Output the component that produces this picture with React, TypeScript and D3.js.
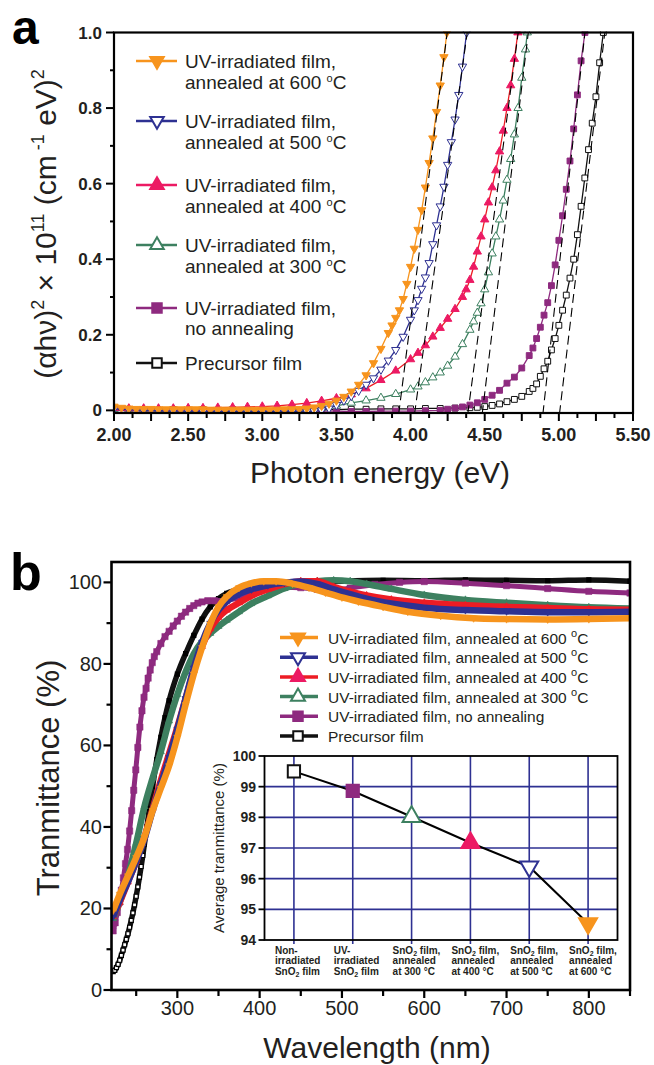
import React from "react";
import * as d3 from "d3";

const FONT = "Arial, 'Liberation Sans', Helvetica, sans-serif";

// ---------------- panel a : Tauc plot ----------------
const energyTicks = [2.0, 2.5, 3.0, 3.5, 4.0, 4.5, 5.0, 5.5];
const alphaTicks = [0, 0.2, 0.4, 0.6, 0.8, 1.0];

// [photon energy (eV), (ahv)^2 x 1e-11]
const tauc600: [number, number][] = [
  [2.0, 0.01], [2.05, 0.007], [2.1, 0.005], [2.15, 0.004], [2.2, 0.004], [2.25, 0.004], [2.3, 0.003],
  [2.35, 0.003], [2.4, 0.003], [2.45, 0.003], [2.5, 0.003], [2.55, 0.003], [2.6, 0.003], [2.65, 0.002],
  [2.7, 0.002], [2.75, 0.002], [2.8, 0.002], [2.85, 0.002], [2.9, 0.002], [2.95, 0.002], [3.0, 0.002],
  [3.05, 0.002], [3.1, 0.002], [3.15, 0.003], [3.2, 0.003], [3.25, 0.004], [3.3, 0.005], [3.35, 0.008],
  [3.4, 0.012], [3.45, 0.018], [3.5, 0.026], [3.55, 0.036], [3.6, 0.05], [3.65, 0.068], [3.7, 0.093],
  [3.75, 0.125], [3.8, 0.163], [3.85, 0.205], [3.875, 0.225], [3.9, 0.245], [3.925, 0.265], [3.95, 0.295],
  [3.975, 0.335], [4.0, 0.38], [4.025, 0.428], [4.05, 0.478], [4.075, 0.53], [4.1, 0.59], [4.125, 0.655],
  [4.15, 0.72], [4.175, 0.79], [4.2, 0.86], [4.225, 0.935], [4.245, 1.0],
];
const tauc500: [number, number][] = [
  [2.0, 0.004], [2.1, 0.002], [2.2, 0.0], [2.3, -0.001], [2.4, -0.002], [2.5, -0.002], [2.6, -0.003],
  [2.7, -0.003], [2.8, -0.003], [2.9, -0.003], [3.0, -0.003], [3.1, -0.003], [3.2, -0.003], [3.3, -0.003],
  [3.35, -0.002], [3.4, 0.0], [3.45, 0.005], [3.5, 0.014], [3.55, 0.026], [3.6, 0.038], [3.65, 0.052],
  [3.7, 0.068], [3.75, 0.085], [3.8, 0.108], [3.85, 0.132], [3.9, 0.16], [3.95, 0.195], [4.0, 0.24],
  [4.025, 0.265], [4.05, 0.292], [4.075, 0.322], [4.1, 0.352], [4.125, 0.39], [4.15, 0.44], [4.175, 0.49],
  [4.2, 0.54], [4.225, 0.592], [4.25, 0.65], [4.275, 0.71], [4.3, 0.77], [4.325, 0.835], [4.35, 0.91],
  [4.378, 1.0],
];
const tauc400: [number, number][] = [
  [2.0, 0.006], [2.1, 0.005], [2.2, 0.005], [2.3, 0.005], [2.4, 0.005], [2.5, 0.006], [2.6, 0.006],
  [2.7, 0.007], [2.8, 0.008], [2.9, 0.009], [3.0, 0.01], [3.1, 0.012], [3.2, 0.015], [3.3, 0.019],
  [3.4, 0.025], [3.5, 0.032], [3.6, 0.042], [3.7, 0.058], [3.8, 0.08], [3.9, 0.105], [4.0, 0.135],
  [4.05, 0.152], [4.1, 0.172], [4.15, 0.195], [4.2, 0.218], [4.25, 0.242], [4.3, 0.268], [4.35, 0.3],
  [4.375, 0.32], [4.4, 0.345], [4.425, 0.38], [4.45, 0.42], [4.475, 0.46], [4.5, 0.505], [4.525, 0.55],
  [4.55, 0.59], [4.575, 0.635], [4.6, 0.685], [4.625, 0.74], [4.65, 0.8], [4.675, 0.86], [4.7, 0.93],
  [4.724, 1.0],
];
const tauc300: [number, number][] = [
  [2.0, 0.003], [2.1, 0.003], [2.2, 0.003], [2.3, 0.003], [2.4, 0.003], [2.5, 0.003], [2.6, 0.003],
  [2.7, 0.003], [2.8, 0.003], [2.9, 0.003], [3.0, 0.003], [3.1, 0.003], [3.2, 0.004], [3.3, 0.005],
  [3.4, 0.006], [3.5, 0.012], [3.6, 0.02], [3.7, 0.026], [3.8, 0.033], [3.9, 0.043], [4.0, 0.055],
  [4.05, 0.063], [4.1, 0.074], [4.15, 0.087], [4.2, 0.1], [4.25, 0.118], [4.3, 0.142], [4.35, 0.175],
  [4.4, 0.213], [4.425, 0.235], [4.45, 0.258], [4.475, 0.283], [4.5, 0.32], [4.525, 0.365], [4.55, 0.415],
  [4.575, 0.46], [4.6, 0.505], [4.625, 0.555], [4.65, 0.61], [4.675, 0.665], [4.7, 0.73], [4.725, 0.8],
  [4.75, 0.88], [4.775, 0.955], [4.787, 1.0],
];
const taucNone: [number, number][] = [
  [2.0, 0.0], [2.1, -0.001], [2.2, -0.002], [2.3, -0.002], [2.4, -0.002], [2.5, -0.002], [2.6, -0.002],
  [2.7, -0.002], [2.8, -0.002], [2.9, -0.002], [3.0, -0.002], [3.1, -0.002], [3.2, -0.002], [3.3, -0.002],
  [3.4, -0.002], [3.5, -0.002], [3.6, -0.003], [3.7, -0.003], [3.8, -0.002], [3.9, -0.002], [4.0, -0.002],
  [4.1, -0.001], [4.2, 0.0], [4.25, 0.003], [4.3, 0.006], [4.35, 0.009], [4.4, 0.014], [4.45, 0.02],
  [4.5, 0.029], [4.55, 0.04], [4.6, 0.053], [4.65, 0.072], [4.7, 0.088], [4.75, 0.112], [4.8, 0.145],
  [4.825, 0.165], [4.85, 0.19], [4.875, 0.22], [4.9, 0.252], [4.925, 0.285], [4.95, 0.33], [4.975, 0.385],
  [5.0, 0.45], [5.025, 0.515], [5.05, 0.585], [5.075, 0.66], [5.1, 0.745], [5.125, 0.835], [5.15, 0.925],
  [5.176, 1.0],
];
const taucPrecursor: [number, number][] = [
  [2.0, 0.002], [2.2, 0.002], [2.4, 0.002], [2.6, 0.002], [2.8, 0.002], [3.0, 0.002], [3.2, 0.002],
  [3.4, 0.002], [3.5, 0.002], [3.6, 0.003], [3.7, 0.003], [3.8, 0.004], [3.9, 0.004], [4.0, 0.004],
  [4.1, 0.005], [4.2, 0.005], [4.3, 0.006], [4.4, 0.007], [4.45, 0.008], [4.5, 0.01], [4.55, 0.013],
  [4.6, 0.017], [4.65, 0.023], [4.7, 0.029], [4.75, 0.037], [4.8, 0.05], [4.825, 0.058], [4.85, 0.07],
  [4.875, 0.09], [4.9, 0.11], [4.925, 0.13], [4.95, 0.16], [4.975, 0.19], [5.0, 0.225], [5.025, 0.265],
  [5.05, 0.305], [5.075, 0.35], [5.1, 0.4], [5.125, 0.465], [5.15, 0.54], [5.175, 0.615], [5.2, 0.69],
  [5.225, 0.76], [5.25, 0.83], [5.275, 0.92], [5.3, 1.0],
];
// dashed linear fits: energy where the fit is 0, energy where the fit reaches 1.0
const taucFits: [number, number][] = [
  [3.923, 4.247], [4.03, 4.382], [4.389, 4.726], [4.486, 4.794], [4.895, 5.176], [5.007, 5.31],
];

// ---------------- panel b : transmittance ----------------
const wavelengthTicks = [300, 400, 500, 600, 700, 800];
const transTicks = [0, 20, 40, 60, 80, 100];

const trans600: [number, number][] = [
  [222, 19.5], [230, 23.5], [240, 28], [250, 32.5], [260, 37.5], [270, 44], [280, 49.5], [290, 55],
  [300, 62], [310, 70], [320, 77.5], [330, 84], [340, 89.8], [350, 94], [360, 96.5], [375, 98.7],
  [390, 99.8], [405, 100.3], [420, 100.3], [440, 99.7], [460, 98.7], [480, 97.5], [500, 96.3], [520, 95.3],
  [550, 94], [580, 92.8], [620, 91.8], [660, 91.2], [700, 91], [750, 90.9], [800, 91], [850, 91.2],
];
const trans500: [number, number][] = [
  [222, 18], [230, 22], [240, 26.5], [250, 31.5], [260, 37], [270, 44], [280, 50.5], [290, 57],
  [300, 64], [310, 71.5], [320, 79], [330, 85.3], [340, 90], [350, 93.2], [360, 95.3], [375, 97.2],
  [390, 98.3], [410, 99.3], [430, 99.9], [450, 100.2], [470, 99.6], [490, 98.3], [510, 97.1], [530, 96],
  [560, 94.8], [600, 93.8], [650, 93.2], [700, 92.9], [750, 92.7], [800, 92.7], [850, 92.8],
];
const trans400: [number, number][] = [
  [222, 18], [230, 21.5], [240, 26.5], [250, 31.5], [260, 37.5], [270, 44.5], [280, 51.5], [290, 58],
  [300, 64.5], [310, 71.5], [320, 78.5], [330, 84.3], [340, 88.6], [350, 91.4], [360, 93.2], [375, 95],
  [390, 96.7], [410, 98.3], [430, 99.6], [450, 100.3], [470, 100.3], [490, 98.9], [510, 97.7], [530, 96.8],
  [560, 95.8], [600, 95], [650, 94.4], [700, 94], [750, 93.7], [800, 93.4], [850, 93.3],
];
const trans300: [number, number][] = [
  [222, 17.5], [230, 21.5], [240, 28], [250, 36], [260, 45], [270, 52], [280, 58.5], [290, 66],
  [300, 72.5], [310, 78], [320, 82.5], [330, 85.5], [340, 87.5], [350, 89.2], [360, 90.7], [375, 92.8],
  [390, 94.8], [410, 96.7], [430, 98.5], [450, 99.7], [470, 100.3], [490, 100.5], [510, 100.3], [530, 99.6],
  [560, 98.4], [600, 96.9], [650, 95.7], [700, 95], [750, 94.4], [800, 93.9], [850, 93.6],
];
const transNone: [number, number][] = [
  [222, 14.5], [224.5, 16.5], [227, 19], [229.5, 21.5], [232, 24.5], [234.5, 27.5], [237, 31], [239.5, 34.5],
  [242, 39], [244.5, 44], [247, 49], [249.5, 54], [252, 59.5], [254.5, 64.5], [257, 68.5], [259.5, 71.8],
  [262, 74], [264.5, 76.5], [267, 78.5], [269.5, 80.3], [272, 81.8], [275, 83], [280, 85], [285, 86.7],
  [290, 88], [295, 89.3], [300, 90.5], [305, 91.7], [310, 92.7], [315, 93.6], [320, 94.3], [325, 94.9],
  [330, 95.2], [337, 95.5], [345, 95.5], [360, 95.6], [375, 96.3], [390, 97.3], [410, 98.4], [430, 98.8],
  [450, 98.7], [470, 98.3], [490, 98.2], [510, 98.6], [540, 99.5], [570, 100], [600, 100.2], [650, 99.8],
  [700, 99.2], [750, 98.5], [800, 97.8], [850, 97.4],
];
const transPrecursor: [number, number][] = [
  [222, 4.5], [224, 4.8], [226, 5.5], [228, 6.3], [230, 7.3], [232, 8.5], [234, 9.8], [236, 11.1],
  [238, 12.4], [240, 13.8], [242, 15.4], [244, 17.1], [246, 18.9], [248, 20.9], [250, 23], [252, 25.3],
  [254, 27.7], [256, 30.3], [258, 33], [260, 35.8], [263, 40], [266, 44.5], [270, 50], [275, 56.5],
  [280, 62], [285, 66.8], [290, 71], [300, 77.5], [310, 82.5], [320, 87], [330, 91], [340, 94], [350, 96],
  [360, 97.3], [380, 98.5], [400, 99.3], [430, 99.8], [460, 100], [500, 100.3], [550, 100.5], [600, 100.4],
  [650, 100.6], [700, 100.5], [750, 100.4], [800, 100.6], [850, 100.3],
];

// inset: average transmittance
const insetCategories = [
  ["Non-", "irradiated", "SnO2 film"],
  ["UV-", "irradiated", "SnO2 film"],
  ["SnO2 film,", "annealed", "at 300 \u00b0C"],
  ["SnO2 film,", "annealed", "at 400 \u00b0C"],
  ["SnO2 film,", "annealed", "at 500 \u00b0C"],
  ["SnO2 film,", "annealed", "at 600 \u00b0C"],
];
const insetValues = [99.5, 98.86, 98.02, 97.17, 96.39, 94.54];
const insetTicks = [94, 95, 96, 97, 98, 99, 100];

const ORANGE = "#F7941D";
const NAVY = "#2E3192";
const PINK = "#EC1A63";
const RED = "#ED1C24";
const GREEN = "#3D8060";
const PURPLE = "#8E2A7F";
const BLACK = "#111";

type Shape = "down" | "up" | "square";
const styles: { shape: Shape; filled: boolean; color: string; line: string; label: string; temp: string }[] = [
  { shape: "down", filled: true, color: ORANGE, line: ORANGE, label: "UV-irradiated film,", temp: "600" },
  { shape: "down", filled: false, color: NAVY, line: NAVY, label: "UV-irradiated film,", temp: "500" },
  { shape: "up", filled: true, color: PINK, line: RED, label: "UV-irradiated film,", temp: "400" },
  { shape: "up", filled: false, color: GREEN, line: GREEN, label: "UV-irradiated film,", temp: "300" },
  { shape: "square", filled: true, color: PURPLE, line: PURPLE, label: "UV-irradiated film,", temp: "" },
  { shape: "square", filled: false, color: BLACK, line: BLACK, label: "Precursor film", temp: "" },
];
const taucData = [tauc600, tauc500, tauc400, tauc300, taucNone, taucPrecursor];
const transData = [trans600, trans500, trans400, trans300, transNone, transPrecursor];
// inset order: precursor, no annealing, 300, 400, 500, 600
const insetStyle = [5, 4, 3, 2, 1, 0];

function symPath(shape: Shape, size: number) {
  return d3.symbol().type(shape === "square" ? d3.symbolSquare : d3.symbolTriangle).size(size)() as string;
}

function Marker(props: { shape: Shape; filled: boolean; color: string; x: number; y: number; size: number; sw?: number }) {
  const { shape, filled, color, x, y, size, sw = 1 } = props;
  const rot = shape === "down" ? " rotate(180)" : "";
  return (
    <path d={symPath(shape, size)} transform={`translate(${x},${y})${rot}`}
      fill={filled ? color : "#fff"} stroke={color} strokeWidth={sw} />
  );
}

function PanelA() {
  const L = 114, R = 633, T = 32.5, B = 413;
  const x = d3.scaleLinear().domain([2, 5.5]).range([L, R]);
  const y = d3.scaleLinear().domain([-0.007, 1]).range([B, T]);
  const line = d3.line<[number, number]>().x(d => x(d[0])).y(d => y(d[1]));
  const minorX = d3.range(2, 5.5001, 0.125);
  const minorY = d3.range(0.1, 1, 0.2);
  const order = [5, 4, 3, 2, 1, 0];
  const legendBase = [68, 128, 192, 252, 315, 370];
  return (
    <g>
      <defs>
        <clipPath id="clipA"><rect x={L} y={T - 1} width={R - L} height={B - T + 1} /></clipPath>
      </defs>
      <text x={12} y={44} fontSize={48} fontWeight="bold" fontFamily={FONT}>a</text>
      <g clipPath="url(#clipA)">
        {order.map(i => {
          const s = styles[i];
          return (
            <g key={i}>
              <path d={line(taucData[i]) as string} fill="none" stroke={s.line} strokeWidth={1.3} />
              {taucData[i].map((d, j) => (
                <Marker key={j} shape={s.shape} filled={s.filled} color={s.color}
                  x={x(d[0])} y={y(d[1])} size={s.shape === "square" ? 34 : 30} sw={1} />
              ))}
            </g>
          );
        })}
        {taucFits.map((f, i) => (
          <line key={i} x1={x(f[0] - 0.01 * (f[1] - f[0]))} y1={y(-0.01)} x2={x(f[1])} y2={y(1)}
            stroke="#000" strokeWidth={1.1} strokeDasharray="9,5" />
        ))}
      </g>
      <rect x={L} y={T} width={R - L} height={B - T} fill="none" stroke="#000" strokeWidth={2.2} />
      {minorX.map((v, i) => (
        <line key={i} x1={x(v)} x2={x(v)} y1={B} y2={B + (i % 2 === 0 ? 8 : 5)} stroke="#000" strokeWidth={2} />
      ))}
      {energyTicks.map(v => (
        <text key={v} x={x(v)} y={441} fontSize={18} fontWeight="bold" textAnchor="middle" fontFamily={FONT} fill="#231f20">
          {v.toFixed(2)}
        </text>
      ))}
      {alphaTicks.map(v => (
        <g key={v}>
          <line x1={L - 8} x2={L} y1={y(v)} y2={y(v)} stroke="#000" strokeWidth={2} />
          <text x={102} y={y(v) + 6} fontSize={17} fontWeight="bold" textAnchor="end" fontFamily={FONT} fill="#231f20">
            {v === 0 ? "0" : v.toFixed(1)}
          </text>
        </g>
      ))}
      {minorY.map(v => (
        <line key={v} x1={L - 4} x2={L} y1={y(v)} y2={y(v)} stroke="#000" strokeWidth={2} />
      ))}
      <text x={380} y={483} fontSize={30} textAnchor="middle" fontFamily={FONT} fill="#231f20">Photon energy (eV)</text>
      <text transform="translate(56,224) rotate(-90)" fontSize={30} textAnchor="middle" fontFamily={FONT} fill="#231f20">
        ({"\u03b1h\u03bd"})<tspan dy={-12} fontSize={18}>2</tspan>
        <tspan dy={12}>{" \u00d7 10"}</tspan><tspan dy={-12} fontSize={18}>11</tspan>
        <tspan dy={12}>{" (cm"}</tspan><tspan dy={-12} fontSize={18}> -1</tspan>
        <tspan dy={12}>{" eV)"}</tspan><tspan dy={-12} fontSize={18}>2</tspan>
      </text>
      {styles.map((s, i) => {
        const b = legendBase[i];
        return (
          <g key={i}>
            <line x1={136} x2={177} y1={b - 7} y2={b - 7} stroke={s.line === RED ? PINK : s.line} strokeWidth={2.5} />
            <Marker shape={s.shape} filled={s.filled} color={s.color} x={157} y={b - 7}
              size={s.shape === "square" ? 90 : 80} sw={2} />
            <text x={185} y={b} fontSize={19} fontFamily={FONT} fill="#231f20">{s.label}</text>
            {s.temp && (
              <text x={185} y={b + 21} fontSize={19} fontFamily={FONT} fill="#231f20">
                {`annealed at ${s.temp} `}<tspan dy={-7} fontSize={11}>o</tspan><tspan dy={7}>C</tspan>
              </text>
            )}
            {i === 4 && <text x={185} y={b + 20} fontSize={19} fontFamily={FONT} fill="#231f20">no annealing</text>}
          </g>
        );
      })}
    </g>
  );
}

function SnText({ t }: { t: string }) {
  if (!t.startsWith("SnO2")) return <tspan>{t}</tspan>;
  return (
    <>
      <tspan>SnO</tspan><tspan dy={2} fontSize={7}>2</tspan><tspan dy={-2}>{t.slice(4)}</tspan>
    </>
  );
}

function Inset() {
  const L = 264.5, R = 617.5, T = 756, B = 940;
  const x = d3.scalePoint<number>().domain(d3.range(insetValues.length)).range([L, R]).padding(0.5);
  const y = d3.scaleLinear().domain([94, 100]).range([B, T]);
  const line = d3.line<number>().x((_, i) => x(i) as number).y(d => y(d));
  return (
    <g>
      <rect x={L} y={T} width={R - L} height={B - T} fill="#fff" />
      {insetTicks.slice(1, -1).map(v => (
        <line key={v} x1={L} x2={R} y1={y(v)} y2={y(v)} stroke={NAVY} strokeWidth={1.6} />
      ))}
      {insetValues.map((_, i) => (
        <line key={i} x1={x(i)} x2={x(i)} y1={T} y2={B + 4} stroke={NAVY} strokeWidth={1.6} />
      ))}
      <rect x={L} y={T} width={R - L} height={B - T} fill="none" stroke="#000" strokeWidth={1.8} />
      {insetTicks.map(v => (
        <g key={v}>
          <line x1={L - 6} x2={L} y1={y(v)} y2={y(v)} stroke="#000" strokeWidth={1.8} />
          <text x={256} y={y(v) + 5} fontSize={14} fontWeight="bold" textAnchor="end" fontFamily={FONT} fill="#231f20">{v}</text>
        </g>
      ))}
      <text transform="translate(224,848) rotate(-90)" fontSize={15} textAnchor="middle" fontFamily={FONT} fill="#231f20">
        Average tranmittance (%)
      </text>
      <path d={line(insetValues) as string} fill="none" stroke="#000" strokeWidth={2} />
      {insetValues.map((v, i) => {
        const s = styles[insetStyle[i]];
        return (
          <Marker key={i} shape={s.shape} filled={s.filled} color={s.color} x={x(i) as number} y={y(v)}
            size={s.shape === "square" ? 150 : 140} sw={2} />
        );
      })}
      {insetCategories.map((lines, i) => (
        <text key={i} fontSize={10} fontWeight="bold" fontFamily={FONT} fill="#231f20">
          {lines.map((t, k) => (
            <tspan key={k} x={(x(i) as number) - 19} y={954 + k * 10.3}><SnText t={t} /></tspan>
          ))}
        </text>
      ))}
    </g>
  );
}

function PanelB() {
  const L = 111.5, R = 630, T = 562, B = 990;
  const x = d3.scaleLinear().domain([220, 850]).range([L, R]);
  const y = d3.scaleLinear().domain([0, 105]).range([B, T]);
  const line = d3.line<[number, number]>().x(d => x(d[0])).y(d => y(d[1])).curve(d3.curveMonotoneX);
  const minorX = d3.range(250, 851, 100);
  const minorY = d3.range(10, 100, 20);
  const order = [5, 4, 3, 2, 1, 0];
  return (
    <g>
      <defs>
        <clipPath id="clipB"><rect x={L} y={T} width={R - L} height={B - T} /></clipPath>
      </defs>
      <text x={10} y={590} fontSize={52} fontWeight="bold" fontFamily={FONT}>b</text>
      <g clipPath="url(#clipB)">
        {order.map(i => {
          const s = styles[i];
          const isB = i === 5, isP = i === 4;
          return (
            <g key={i}>
              <path d={line(transData[i]) as string} fill="none" stroke={s.line}
                strokeWidth={isB ? 5.5 : isP ? 5 : 6.5} strokeLinejoin="round" />
              {transData[i].map((d, j) => (
                <Marker key={j} shape={s.shape}
                  filled={!isB || d[0] > 262} color={isB ? "#000" : s.line}
                  x={x(d[0])} y={y(d[1])} size={isB ? 16 : isP ? 40 : 22} sw={isB ? 1.2 : 0.5} />
              ))}
            </g>
          );
        })}
      </g>
      <rect x={L} y={T} width={R - L} height={B - T} fill="none" stroke="#000" strokeWidth={2.6} />
      {wavelengthTicks.map(v => (
        <g key={v}>
          <line x1={x(v)} x2={x(v)} y1={B} y2={B + 8} stroke="#000" strokeWidth={2.2} />
          <text x={x(v)} y={1015} fontSize={20} textAnchor="middle" fontFamily={FONT} fill="#231f20">{v}</text>
        </g>
      ))}
      {minorX.map(v => (
        <line key={v} x1={x(v)} x2={x(v)} y1={B} y2={B + 6} stroke="#000" strokeWidth={2.2} />
      ))}
      {transTicks.map(v => (
        <g key={v}>
          <line x1={L - 8} x2={L} y1={y(v)} y2={y(v)} stroke="#000" strokeWidth={2.2} />
          <text x={102} y={y(v) + 7} fontSize={20} textAnchor="end" fontFamily={FONT} fill="#231f20">{v}</text>
        </g>
      ))}
      {minorY.map(v => (
        <line key={v} x1={L - 5} x2={L} y1={y(v)} y2={y(v)} stroke="#000" strokeWidth={2.2} />
      ))}
      <text x={377} y={1058} fontSize={30} textAnchor="middle" fontFamily={FONT} fill="#231f20">Wavelength (nm)</text>
      <text transform="translate(59,778) rotate(-90)" fontSize={31} textAnchor="middle" fontFamily={FONT} fill="#231f20">
        Tranmittance (%)
      </text>
      {styles.map((s, i) => {
        const b = 643.5 + i * 19.7;
        return (
          <g key={i}>
            <line x1={280} x2={318} y1={b - 6} y2={b - 6} stroke={s.line} strokeWidth={3.5} />
            <Marker shape={s.shape} filled={s.filled} color={s.color} x={298} y={b - 6}
              size={s.shape === "square" ? 90 : 85} sw={2} />
            <text x={328} y={b} fontSize={15.5} fontFamily={FONT} fill="#231f20">
              {s.label}
              {s.temp ? ` annealed at ${s.temp} ` : i === 4 ? " no annealing" : ""}
              {s.temp && <tspan dy={-7} fontSize={11}>o</tspan>}
              {s.temp && <tspan dy={7}>C</tspan>}
            </text>
          </g>
        );
      })}
      <Inset />
    </g>
  );
}

export default function App() {
  return (
    <svg width={654} height={1065} style={{ position: "absolute", left: 0, top: 0 }}>
      <rect width={654} height={1065} fill="#fff" />
      <PanelA />
      <PanelB />
    </svg>
  );
}
